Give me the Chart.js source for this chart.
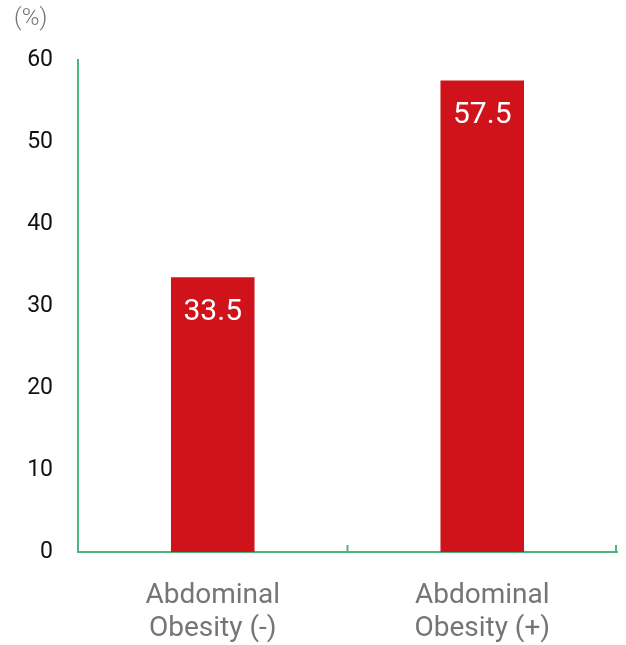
<!DOCTYPE html>
<html>
<head>
<meta charset="utf-8">
<script src="https://cdn.jsdelivr.net/npm/chart.js@4.4.1/dist/chart.umd.min.js"></script>
<style>
  html, body { margin: 0; padding: 0; background: #fff; }
  #wrap { width: 626px; height: 645px; position: relative; }
</style>
</head>
<body>
<div id="wrap"><canvas id="obesity"></canvas></div>
<script>
var categories = [['Abdominal', 'Obesity (-)'], ['Abdominal', 'Obesity (+)']];
var values = [33.5, 57.5];
var yTicks = [0, 10, 20, 30, 40, 50, 60];

var RED = '#D0121B';
var GREEN = '#4DB582';
var GRAY = '#757575';
var FONT = "Roboto, 'Noto Sans', sans-serif";

// value printed near the top of each bar
var barValues = {
  id: 'barValues',
  afterDatasetsDraw: function (chart) {
    var ctx = chart.ctx;
    var meta = chart.getDatasetMeta(0);
    ctx.save();
    ctx.fillStyle = '#fff';
    ctx.font = '30px ' + FONT;
    ctx.textAlign = 'center';
    ctx.textBaseline = 'middle';
    meta.data.forEach(function (bar, i) {
      ctx.fillText(values[i].toFixed(1), bar.x, bar.y + 35);
    });
    ctx.restore();
  }
};

// unit label and the short upward ticks on the x axis
var axisExtras = {
  id: 'axisExtras',
  afterDraw: function (chart) {
    var ctx = chart.ctx;
    var area = chart.chartArea;
    var x = chart.scales.x;
    ctx.save();
    ctx.fillStyle = GRAY;
    ctx.font = '300 24px ' + FONT;
    ctx.textAlign = 'left';
    ctx.textBaseline = 'middle';
    ctx.fillText('(%)', 14, 19);
    ctx.strokeStyle = GREEN;
    ctx.lineWidth = 2;
    var marks = [];
    for (var i = 1; i < categories.length; i++) {
      marks.push((x.getPixelForValue(i - 1) + x.getPixelForValue(i)) / 2);
    }
    marks.push(area.right - 1);
    marks.forEach(function (px) {
      ctx.beginPath();
      ctx.moveTo(px, area.bottom);
      ctx.lineTo(px, area.bottom - 7);
      ctx.stroke();
    });
    ctx.restore();
  }
};

new Chart(document.getElementById('obesity'), {
  type: 'bar',
  data: {
    labels: categories,
    datasets: [{
      data: values,
      backgroundColor: RED,
      borderWidth: 0,
      categoryPercentage: 1,
      barPercentage: 0.31
    }]
  },
  options: {
    responsive: true,
    maintainAspectRatio: false,
    animation: false,
    layout: { padding: { top: 60, right: 9, left: 0, bottom: 0 } },
    plugins: { legend: { display: false }, tooltip: { enabled: false } },
    scales: {
      x: {
        grid: { display: false, drawTicks: false },
        border: { color: GREEN, width: 2 },
        ticks: { color: GRAY, font: { size: 28, family: FONT, lineHeight: 1.2 }, padding: 27 },
        afterFit: function (s) { s.height = 93; }
      },
      y: {
        min: 0,
        max: 60,
        afterBuildTicks: function (s) { s.ticks = yTicks.map(function (v) { return { value: v }; }); },
        grid: { display: false, drawTicks: false },
        border: { color: GREEN, width: 2 },
        ticks: { color: '#111', font: { size: 23, family: FONT }, padding: 25 },
        afterFit: function (s) { s.width = 78; }
      }
    }
  },
  plugins: [barValues, axisExtras]
});
</script>
</body>
</html>
